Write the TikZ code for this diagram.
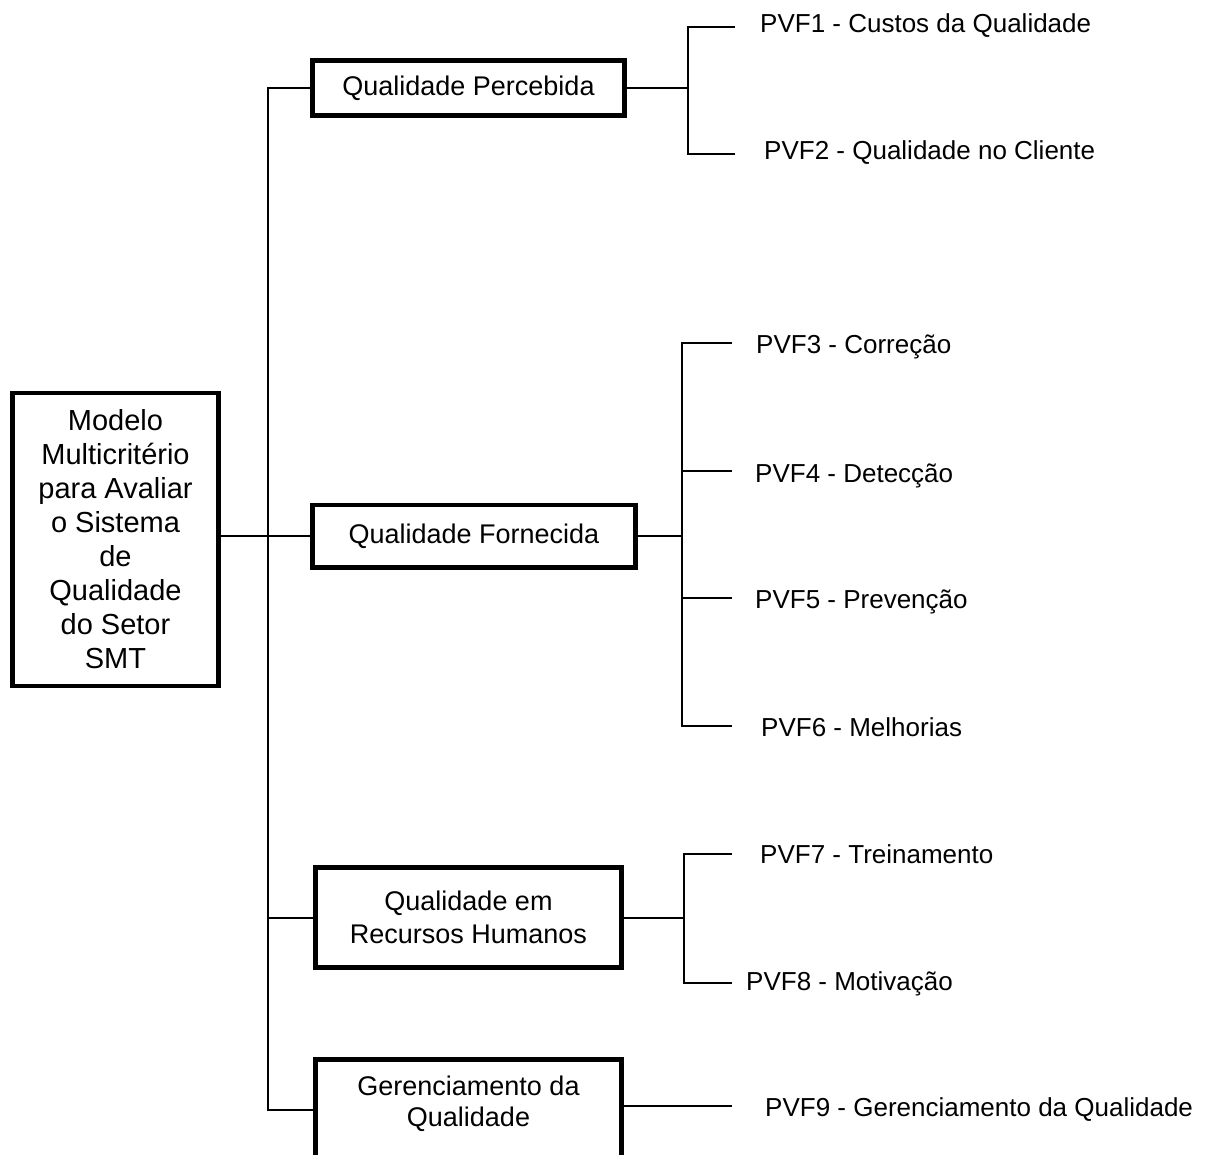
\documentclass[tikz,border=0pt]{standalone}
\usepackage{fontspec}
\setmainfont{Liberation Sans}
\begin{document}
\begin{tikzpicture}[x=1pt,y=-1pt,
  wire/.style={line width=2pt},
  box/.style={draw, line width=4.5pt, inner sep=0pt, outer sep=0pt, align=center,
              font=\fontsize{27}{33}\selectfont},
  boxtext/.style={inner sep=0pt, align=center, font=\fontsize{27}{31}\selectfont},
  leaf/.style={anchor=base west, inner sep=0pt, font=\fontsize{26}{33}\selectfont}]
\clip (0,0) rectangle (1213,1155);

% root and first-level criteria
\node[box, minimum width=206, minimum height=293, font=\fontsize{29}{34}\selectfont]
  (main) at (115.5,539.5) {Modelo\\Multicritério\\para Avaliar\\o Sistema\\de\\Qualidade\\do Setor\\SMT};
\node[box, minimum width=312, minimum height=55]   (qp) at (468.5,88)     {Qualidade Percebida};
\node[box, minimum width=323, minimum height=62.5] (qf) at (474,536.25)   {Qualidade Fornecida};
\node[box, minimum width=306, minimum height=100]  (rh) at (468.5,917.5)  {Qualidade em\\Recursos Humanos};
\node[box, minimum width=306, minimum height=110.5] (gq) at (468.5,1114.75) {};
\node[boxtext] (gqtext) at (468.5,1103.5) {Gerenciamento da\\Qualidade};

% trunk joining the criteria
\coordinate (trunktop) at (268,88);
\coordinate (trunkbot) at (268,1110);
\draw[wire] (qp.west) -- (trunktop) -- (trunkbot) -- (trunkbot -| gq.west);
\draw[wire] (main.east |- qf.west) -- (qf.west);
\draw[wire] (rh.west) -- (rh.west -| trunktop);

% leaf end points
\coordinate (e1) at (735,27);
\coordinate (e2) at (735,154);
\coordinate (e3) at (732,343);
\coordinate (e4) at (732,471);
\coordinate (e5) at (732,598);
\coordinate (e6) at (732,726);
\coordinate (e7) at (732,854);
\coordinate (e8) at (732,983);
\coordinate (e9) at (732,1106);

% branches
\coordinate (bqp) at (687.5,0);
\draw[wire] (qp.east) -- (qp.east -| bqp);
\draw[wire] (e1) -- (e1 -| bqp) -- (e2 -| bqp) -- (e2);

\coordinate (bqf) at (682,0);
\draw[wire] (qf.east) -- (qf.east -| bqf);
\draw[wire] (e3) -- (e3 -| bqf) -- (e6 -| bqf) -- (e6);
\draw[wire] (e4 -| bqf) -- (e4);
\draw[wire] (e5 -| bqf) -- (e5);

\coordinate (brh) at (684,0);
\draw[wire] (rh.east) -- (rh.east -| brh);
\draw[wire] (e7) -- (e7 -| brh) -- (e8 -| brh) -- (e8);

\draw[wire] (e9 -| gq.east) -- (e9);

% leaf labels
\node[leaf] (pvf1) at (760,33)   {PVF1 - Custos da Qualidade};
\node[leaf] (pvf2) at (764,160)  {PVF2 - Qualidade no Cliente};
\node[leaf] (pvf3) at (756,354)  {PVF3 - Correção};
\node[leaf] (pvf4) at (755,482)  {PVF4 - Detecção};
\node[leaf] (pvf5) at (755,608)  {PVF5 - Prevenção};
\node[leaf] (pvf6) at (761,736)  {PVF6 - Melhorias};
\node[leaf] (pvf7) at (760,863)  {PVF7 - Treinamento};
\node[leaf] (pvf8) at (746,990)  {PVF8 - Motivação};
\node[leaf] (pvf9) at (765,1116) {PVF9 - Gerenciamento da Qualidade};
\end{tikzpicture}
\end{document}
